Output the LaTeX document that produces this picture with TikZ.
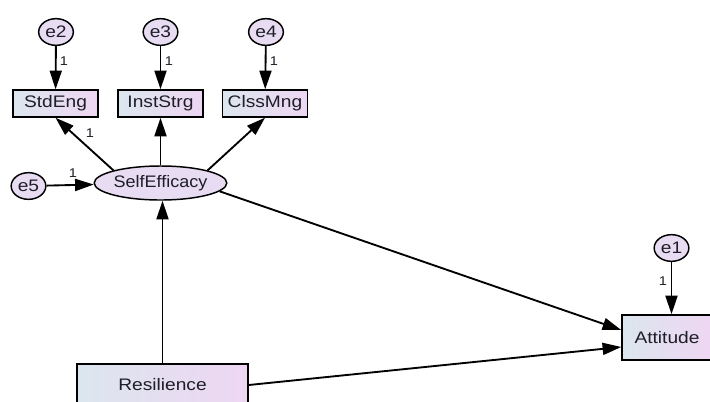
\documentclass[tikz,border=0pt]{standalone}
\usepackage{fontspec}
\setmainfont{Liberation Sans}
\usepackage{graphicx}
\usetikzlibrary{arrows.meta,shapes.geometric}
\newcommand{\sx}[1]{\scalebox{1.15}[1]{#1}}
\definecolor{boxL}{RGB}{220,230,238}
\definecolor{boxR}{RGB}{238,214,242}
\definecolor{circF}{RGB}{232,220,242}
\definecolor{txt}{RGB}{30,30,40}
\begin{document}
\begin{tikzpicture}[x=0.75pt,y=-0.75pt,
  obsbox/.style={draw=black, line width=1.1pt, left color=boxL, right color=boxR, rectangle, inner sep=0pt, text=txt, font=\fontsize{12.5pt}{14pt}\selectfont},
  latent/.style={draw=black, ellipse, line width=1.1pt, fill=circF, inner sep=0pt, text=txt, font=\fontsize{12.5pt}{14pt}\selectfont},
  errc/.style={latent, minimum width=26pt, minimum height=20pt},
  smallbox/.style={obsbox, minimum width=63.75pt, minimum height=20.25pt},
  arr/.style={-{Triangle[length=14pt,width=9pt]}, line width=1.4pt},
  lbl/.style={font=\fontsize{9.5pt}{10pt}\selectfont, inner sep=0pt, text=txt}]
\clip (0,0) rectangle (710,401);
\fill[white] (0,0) rectangle (710,401);

% error terms
\node[errc] (e2) at (56,32) {\sx{e2}};
\node[errc] (e3) at (160.5,32) {\sx{e3}};
\node[errc] (e4) at (266,32) {\sx{e4}};
\node[errc] (e5) at (28.5,186) {\sx{e5}};
\node[errc] (e1) at (671.5,248) {\sx{e1}};

% observed
\node[smallbox] (std) at (55.5,103.5) {\sx{StdEng}};
\node[smallbox] (inst) at (160.5,103.5) {\sx{InstStrg}};
\node[smallbox] (clss) at (265,103.5) {\sx{ClssMng}};
\node[obsbox, minimum width=67.5pt, minimum height=33.75pt] (att) at (667,337.5) {\sx{Attitude}};
\node[obsbox, minimum width=128.25pt, minimum height=31.5pt] (res) at (162.5,385) {\sx{Resilience}};

% latent
\node[latent, minimum width=78pt, minimum height=25.5pt] (se) at (160.5,183) {\scalebox{1.08}[1]{SelfEfficacy}};

% arrows
\draw[arr] (e2) -- (std);
\draw[arr] (e3) -- (inst);
\draw[arr] (e4) -- (clss);
\draw[arr] (e1.south) -- (e1.south |- att.north);
\draw[arr] (e5) -- (se);
\draw[arr] (se.165) -- (std.south);
\draw[arr] (se.north) -- (inst.south);
\draw[arr] (se.15) -- (clss.south);
\draw[arr] (res.north) -- (res.north |- se.south);
\draw[arr] (se.-8) -- ([yshift=5.6pt]att.west);
\draw[arr] (res.east) -- ([yshift=-7.1pt]att.west);

% labels
\node[lbl] (l2) at (64,61) {\sx{1}};
\node[lbl] (l3) at (169,61) {\sx{1}};
\node[lbl] (l4) at (274,61) {\sx{1}};
\node[lbl] (ls) at (90,133) {\sx{1}};
\node[lbl] (l5) at (73,173) {\sx{1}};
\node[lbl] (l1) at (663,281) {\sx{1}};
\end{tikzpicture}
\end{document}
